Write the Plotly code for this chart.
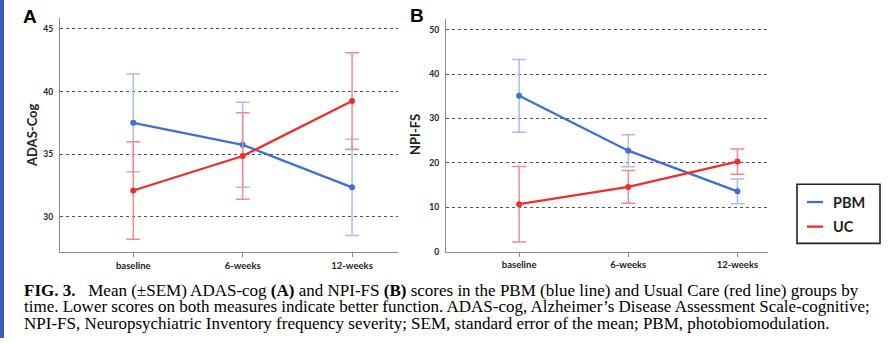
import plotly.graph_objects as go

# ---- data ----
timepoints = ["baseline", "6-weeks", "12-weeks"]

adas_pbm = [37.5, 35.75, 32.35]
adas_pbm_sem = [3.9, 3.4, 3.85]
adas_uc = [32.1, 34.85, 39.25]
adas_uc_sem = [3.9, 3.45, 3.85]

npi_pbm = [35.1, 22.75, 13.6]
npi_pbm_sem = [8.2, 3.6, 2.8]
npi_uc = [10.7, 14.6, 20.3]
npi_uc_sem = [8.5, 3.7, 2.85]

adas_ticks = [30, 35, 40, 45]
npi_ticks = [0, 10, 20, 30, 40, 50]

series_names = ["PBM", "UC"]

# ---- style ----
W, H = 888, 343
BLUE = "#3f6fd2"
RED = "#ec2f2b"
BLUE_ERR = "#a6bff0"
RED_ERR = "#f28b8b"
AXIS = "#8c8c8c"
GRID = "#555555"
YTICKFONT = dict(family="Lato", size=8.5, color="#222222", weight="bold")
XTICKFONT = dict(family="Lato", size=9.5, color="#222222", weight="bold")
NB = "\u00a0"


def px_x(p):
    return p / W


def px_y(p):
    return 1 - p / H


fig = go.Figure()


def add_series(x, y, sem, color, ecolor, xa, ya):
    fig.add_trace(go.Scatter(
        x=x, y=y, mode="lines+markers",
        line=dict(color=color, width=2.3),
        marker=dict(color=color, size=6),
        error_y=dict(type="data", array=sem, visible=True, color=ecolor,
                     thickness=1.5, width=7),
        xaxis=xa, yaxis=ya, showlegend=False,
    ))


add_series(timepoints, adas_pbm, adas_pbm_sem, BLUE, BLUE_ERR, "x", "y")
add_series(timepoints, adas_uc, adas_uc_sem, RED, RED_ERR, "x", "y")
add_series(timepoints, npi_pbm, npi_pbm_sem, BLUE, BLUE_ERR, "x2", "y2")
add_series(timepoints, npi_uc, npi_uc_sem, RED, RED_ERR, "x2", "y2")

xcommon = dict(type="category", showline=True, linecolor=AXIS, linewidth=1.3,
               ticks="outside", ticklen=4, tickcolor=AXIS, tickwidth=1,
               showgrid=False, zeroline=False, tickfont=XTICKFONT)
ycommon = dict(showline=True, linecolor=AXIS, linewidth=1.3,
               ticks="", ticklabelstandoff=4,
               showgrid=True, gridcolor=GRID, griddash="dot", gridwidth=1,
               zeroline=False, tickfont=YTICKFONT)

fig.update_layout(
    width=W, height=H,
    margin=dict(l=0, r=0, t=0, b=0),
    paper_bgcolor="white", plot_bgcolor="white",
    xaxis=dict(domain=[px_x(60), px_x(398)], range=[-0.67, 2.42],
               anchor="y", **xcommon),
    yaxis=dict(domain=[px_y(256), px_y(18)], range=[27.17, 45.89],
               tickvals=adas_ticks, anchor="x", **ycommon),
    xaxis2=dict(domain=[px_x(446), px_x(768)], range=[-0.67, 2.28],
                anchor="y2", **xcommon),
    yaxis2=dict(domain=[px_y(255.5), px_y(19)], range=[0, 52.45],
                tickvals=npi_ticks, anchor="x2", **ycommon),
    showlegend=False,
)


def ann(text, x, y, size, family="Lato", color="#222222", xanchor="center", angle=0):
    return dict(text=text, x=px_x(x), y=px_y(y), xref="paper", yref="paper",
                xanchor=xanchor, yanchor="middle", showarrow=False, textangle=angle,
                font=dict(family=family, size=size, color=color))


annotations = []
# panel letters
annotations.append(ann("<b>A</b>", 30, 17, 19, family="Liberation Sans", color="black"))
annotations.append(ann("<b>B</b>", 417, 16, 19, family="Liberation Sans", color="black"))
# y titles
annotations.append(ann("<b>ADAS-Cog</b>", 32, 137, 13, angle=-90))
annotations.append(ann("<b>NPI-FS</b>", 415, 137, 13, angle=-90))

# manual legend
shapes = [
    dict(type="rect", xref="paper", yref="paper", x0=px_x(797), x1=px_x(880),
         y0=px_y(247), y1=px_y(187), line=dict(color="#222222", width=1.6)),
]
for i, (name, col) in enumerate(zip(series_names, [BLUE, RED])):
    yy = 205 + i * 25
    shapes.append(dict(type="line", xref="paper", yref="paper", x0=px_x(807), x1=px_x(823),
                       y0=px_y(yy), y1=px_y(yy), line=dict(color=col, width=2.3)))
    annotations.append(ann("<b>" + name + "</b>", 831, yy, 14.5, xanchor="left"))

# left page-edge bar
shapes.append(dict(type="rect", xref="paper", yref="paper", x0=0, x1=px_x(4), y0=0, y1=1,
                   fillcolor="#3a5cbf", line=dict(width=0)))

# caption
caption_lines = [
    "<b>FIG. 3.</b>" + NB * 3 + "Mean (±SEM) ADAS-cog <b>(A)</b> and NPI-FS <b>(B)</b> scores in the PBM (blue line) and Usual Care (red line) groups by",
    "time. Lower scores on both measures indicate better function. ADAS-cog, Alzheimer’s Disease Assessment Scale-cognitive;",
    "NPI-FS, Neuropsychiatric Inventory frequency severity; SEM, standard error of the mean; PBM, photobiomodulation.",
]
for i, line in enumerate(caption_lines):
    annotations.append(ann(line, 22, 295 + i * 16.5, 17, family="Liberation Serif",
                           color="black", xanchor="left"))

fig.update_layout(annotations=annotations, shapes=shapes)

fig.write_html("out.html")
